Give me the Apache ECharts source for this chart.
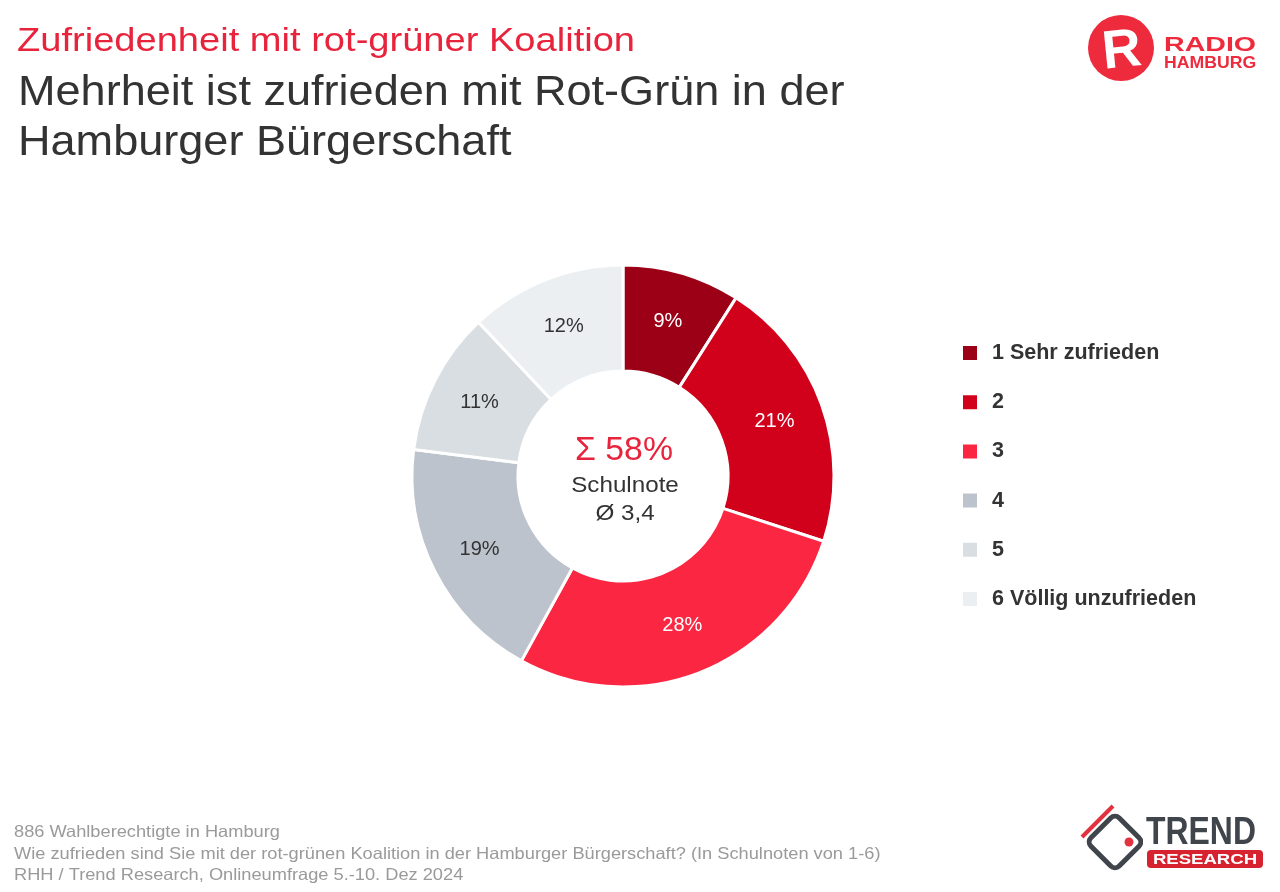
<!DOCTYPE html>
<html>
<head>
<meta charset="utf-8">
<script src="https://cdn.jsdelivr.net/npm/echarts@6/dist/echarts.min.js"></script>
<style>
html,body{margin:0;padding:0;background:#fff;}
#chart{width:1280px;height:892px;}
</style>
</head>
<body>
<div id="chart"></div>
<script>
const categories = ['1 Sehr zufrieden', '2', '3', '4', '5', '6 Völlig unzufrieden'];
const values = [9, 21, 28, 19, 11, 12];
const colors = ['#9c0016', '#d1001b', '#fb2641', '#bcc3cc', '#d9dee3', '#eceff2'];
const labelColors = ['#ffffff', '#ffffff', '#ffffff', '#333333', '#333333', '#333333'];
const centerLines = ['Σ 58%', 'Schulnote', 'Ø 3,4'];
const titleText = 'Zufriedenheit mit rot-grüner Koalition';
const subtitleLines = ['Mehrheit ist zufrieden mit Rot-Grün in der', 'Hamburger Bürgerschaft'];
const footerLines = [
  '886 Wahlberechtigte in Hamburg',
  'Wie zufrieden sind Sie mit der rot-grünen Koalition in der Hamburger Bürgerschaft? (In Schulnoten von 1-6)',
  'RHH / Trend Research, Onlineumfrage 5.-10. Dez 2024'
];

const chart = echarts.init(document.getElementById('chart'), null, {renderer: 'canvas'});
const FONT = 'Liberation Sans, Arial, sans-serif';

function txt(x, y, text, font, fill, scaleX, align) {
  return {type: 'text', x: x, y: y, scaleX: scaleX || 1,
    style: {text: text, font: font, fill: fill, align: align || 'left', verticalAlign: 'middle'}};
}

const graphics = [
  txt(17, 42, titleText, '34px ' + FONT, '#e8233c', 1.12),
  txt(18, 93, subtitleLines[0], '42px ' + FONT, '#333333', 1.073),
  txt(18, 143, subtitleLines[1], '42px ' + FONT, '#333333', 1.073),
  txt(14, 832, footerLines[0], '16.5px ' + FONT, '#9a9a9a', 1.105),
  txt(14, 854, footerLines[1], '16.5px ' + FONT, '#9a9a9a', 1.105),
  txt(14, 875.5, footerLines[2], '16.5px ' + FONT, '#9a9a9a', 1.105),
  // center text
  txt(624, 451, centerLines[0], '32.5px ' + FONT, '#e8233c', 1.04, 'center'),
  txt(625, 486, centerLines[1], '22px ' + FONT, '#333333', 1.1, 'center'),
  txt(625, 514, centerLines[2], '22px ' + FONT, '#333333', 1.1, 'center'),
  // Radio Hamburg logo
  {type: 'circle', shape: {cx: 1121, cy: 48, r: 33}, style: {fill: '#ee2a3d'}},
  {type: 'text', x: 1122, y: 52, rotation: 0.1, style: {text: 'R', font: 'bold 54px ' + FONT, fill: '#ffffff', align: 'center', verticalAlign: 'middle'}},
  txt(1164, 45, 'RADIO', 'bold 21px ' + FONT, '#ee2a3d', 1.36),
  txt(1164, 63, 'HAMBURG', 'bold 16.5px ' + FONT, '#ee2a3d', 1.07),
  // Trend Research logo
  {type: 'rect', x: 1115, y: 842, rotation: Math.PI / 4, shape: {x: -20, y: -20, width: 40, height: 40, r: 6}, style: {fill: 'none', stroke: '#3f454b', lineWidth: 5}},
  {type: 'line', shape: {x1: 1082, y1: 837, x2: 1113, y2: 806}, style: {stroke: '#e2313f', lineWidth: 4}},
  {type: 'circle', shape: {cx: 1129, cy: 842, r: 4.5}, style: {fill: '#e2313f'}},
  {type: 'rect', shape: {x: 1143, y: 822, width: 4, height: 24}, style: {fill: '#ffffff'}},
  txt(1146, 834, 'TREND', 'bold 38px ' + FONT, '#3f454b', 0.84),
  {type: 'rect', shape: {x: 1147, y: 850, width: 116, height: 18, r: 4}, style: {fill: '#d7232f'}},
  txt(1205, 860, 'RESEARCH', 'bold 14.5px ' + FONT, '#ffffff', 1.28, 'center')
];

const option = {
  backgroundColor: '#ffffff',
  animation: false,
  legend: {
    orient: 'vertical',
    left: 956,
    top: 337,
    padding: 5,
    itemWidth: 16,
    itemHeight: 16,
    itemGap: 27.2,
    icon: 'rect',
    data: categories,
    textStyle: {fontFamily: FONT, fontSize: 21.5, fontWeight: 'bold', color: '#333333', padding: [0, 0, 0, 9]}
  },
  graphic: graphics,
  series: [{
    type: 'pie',
    center: [623, 476],
    radius: [105, 211],
    startAngle: 90,
    clockwise: true,
    avoidLabelOverlap: false,
    itemStyle: {borderColor: '#ffffff', borderWidth: 3},
    label: {
      show: true,
      position: 'inside',
      formatter: '{c}%',
      fontFamily: FONT,
      fontSize: 20
    },
    labelLine: {show: false},
    emphasis: {disabled: true},
    data: categories.map((c, i) => ({
      name: c,
      value: values[i],
      itemStyle: {color: colors[i]},
      label: {color: labelColors[i]}
    }))
  }]
};
chart.setOption(option);
</script>
</body>
</html>
